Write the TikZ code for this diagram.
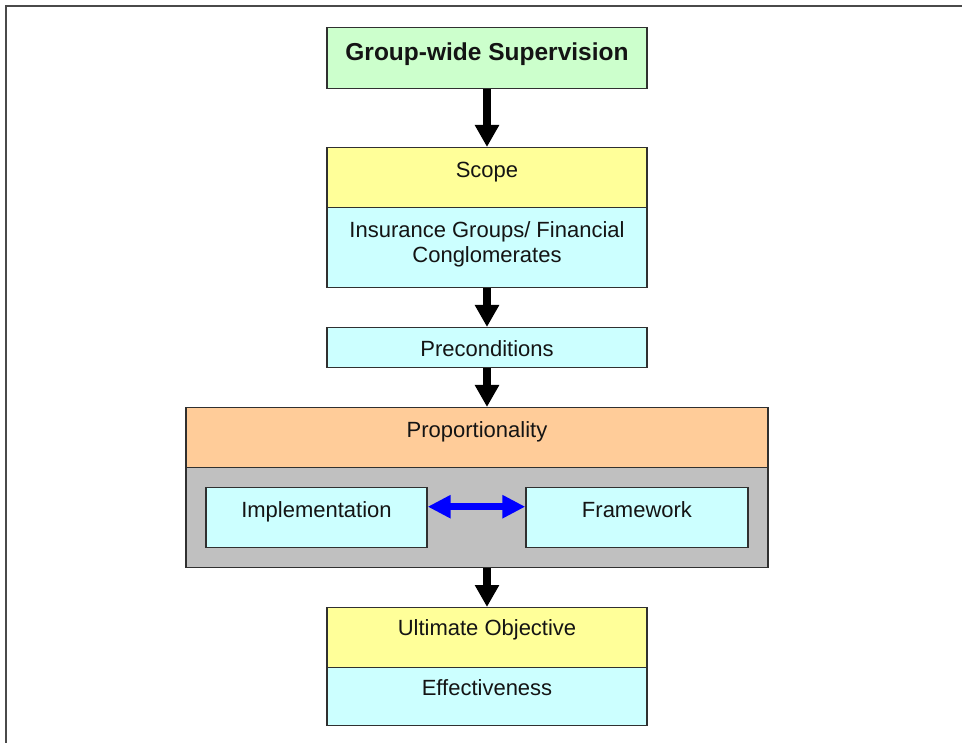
\documentclass[tikz,border=0pt]{standalone}
\usepackage{fontspec}
\setmainfont{Liberation Sans}
\usetikzlibrary{arrows.meta}
\definecolor{boxgreen}{HTML}{CCFFCC}
\definecolor{boxyellow}{HTML}{FFFF99}
\definecolor{boxcyan}{HTML}{CCFFFF}
\definecolor{boxorange}{HTML}{FFCC99}
\definecolor{panelgray}{HTML}{C0C0C0}
\definecolor{edgecol}{HTML}{303030}
\definecolor{framecol}{HTML}{4A4A4A}
\definecolor{textcol}{HTML}{141414}
\begin{document}
\begin{tikzpicture}[x=1pt,y=-1pt,
  box/.style={draw=edgecol, line width=1.4pt, rectangle, inner xsep=0pt, inner ysep=0pt,
    anchor=north, font=\fontsize{22}{25}\selectfont, text=textcol},
  flow/.style={line width=7.5pt, -{Triangle[width=23pt,length=22pt]}},
  link/.style={draw=blue, line width=7pt,
    {Triangle[width=22pt,length=23pt]}-{Triangle[width=22pt,length=23pt]}}
]
\useasboundingbox (0,0) rectangle (962,743);

% outer frame (left and top edges)
\draw[framecol, line width=2pt] (6,743) -- (6,6) -- (962,6);

% main column
\node[box, fill=boxgreen, minimum width=320pt, text height=33pt, text depth=28pt,
  font=\fontsize{24.5}{28}\selectfont\bfseries] (gws) at (487,27) {Group-wide Supervision};
\node[box, fill=boxyellow, minimum width=320pt, text height=30pt, text depth=30pt]
  (scope) at (487,147) {Scope};
\node[box, fill=boxcyan, minimum width=320pt, align=center, text height=54.7pt, text depth=25.3pt]
  (insur) at (487,207) {Insurance Groups/ Financial\\Conglomerates};
\node[box, fill=boxcyan, minimum width=320pt, text height=29pt, text depth=11pt]
  (precond) at (487,327) {Preconditions};

% proportionality block
\node[box, fill=boxorange, minimum width=582pt, text height=30pt, text depth=30pt]
  (prop) at (477,407) {Proportionality};
\node[box, fill=panelgray, minimum width=582pt, minimum height=100pt]
  (panel) at (477,467) {};
\node[box, fill=boxcyan, minimum width=221pt, text height=29.7pt, text depth=30.3pt]
  (impl) at (316.5,487) {Implementation};
\node[box, fill=boxcyan, minimum width=222pt, text height=29.7pt, text depth=30.3pt]
  (fw) at (637,487) {Framework};

% objective
\node[box, fill=boxyellow, minimum width=320pt, text height=28pt, text depth=32pt]
  (ult) at (487,607) {Ultimate Objective};
\node[box, fill=boxcyan, minimum width=320pt, text height=28pt, text depth=30pt]
  (eff) at (487,667) {Effectiveness};

% connectors
\draw[flow] (gws.south) -- (scope.north);
\draw[flow] (insur.south) -- (precond.north);
\draw[flow] (precond.south) -- (precond.south |- prop.north);
\draw[flow] (ult.north |- panel.south) -- (ult.north);
\draw[link] ([yshift=11pt]impl.east) -- ([yshift=11pt]fw.west);
\end{tikzpicture}
\end{document}
